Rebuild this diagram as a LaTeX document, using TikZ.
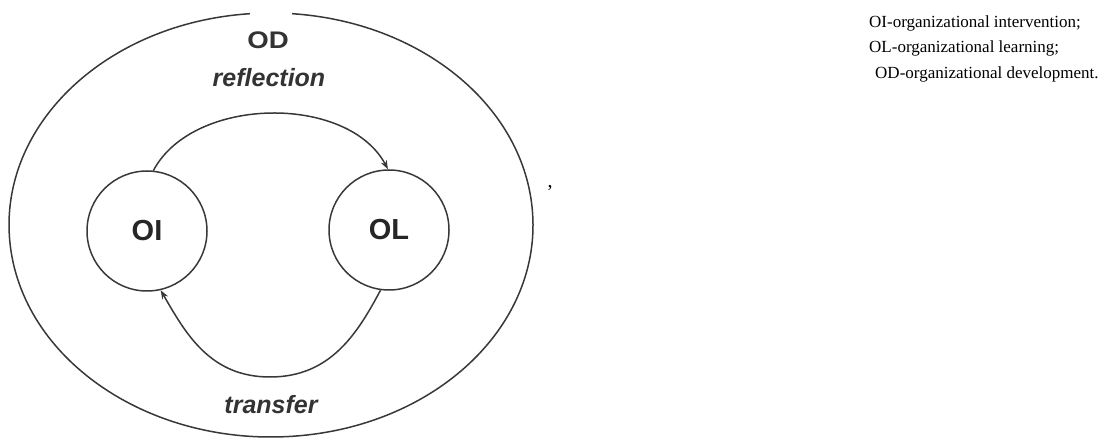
\documentclass[tikz,border=0pt]{standalone}
\usepackage{fontspec}
\setmainfont{Liberation Serif}
\setsansfont{Liberation Sans}
\usetikzlibrary{arrows.meta,calc}
\begin{document}
\begin{tikzpicture}[x=1pt,y=1pt,
  line/.style={draw=black!78,line width=1.5pt},
  ring/.style={circle,line,minimum size=120pt,inner sep=0pt,
    font=\sffamily\bfseries\fontsize{29}{29}\selectfont,text=black!85},
  flow/.style={line,-{Stealth[length=9pt,width=6.5pt]}},
  tag/.style={font=\sffamily\bfseries\itshape\fontsize{25}{25}\selectfont,text=black!80},
  legend/.style={anchor=base west,inner sep=0pt,font=\fontsize{17}{17}\selectfont}]
\useasboundingbox (0,0) rectangle (1107,441);
% outer ellipse, open at the top
\draw[line] (250,427.3) arc[start angle=94.6,end angle=445.4,x radius=262,y radius=212];
\node[font=\sffamily\bfseries\fontsize{24}{24}\selectfont,text=black!80] (od) at (268,401) {\scalebox{1.15}[1]{OD}};
\node[tag] (refl) at (269,363) {reflection};
\node[tag] (trans) at (271,36) {transfer};
% inner circles
\node[ring] (oi) at (147,210) {OI};
\node[ring] (ol) at (389,211) {OL};
% cycle between them
\coordinate (low) at (270,64);
\draw[flow] (oi.84) .. controls +(62:85) and +(118:85) .. (ol.91);
\draw[flow] (ol.-98) .. controls +(-118:50) and +(0:60) .. (low)
                     .. controls +(180:60) and +(-60:50) .. (oi.-77);
\node[font=\fontsize{20}{20}\selectfont] (comma) at (550,253) {,};
% legend
\node[legend] (l1) at (869,413) {OI-organizational intervention;};
\node[legend] (l2) at (869,388) {OL-organizational learning;};
\node[legend] (l3) at (875,362) {OD-organizational development.};
\end{tikzpicture}
\end{document}
